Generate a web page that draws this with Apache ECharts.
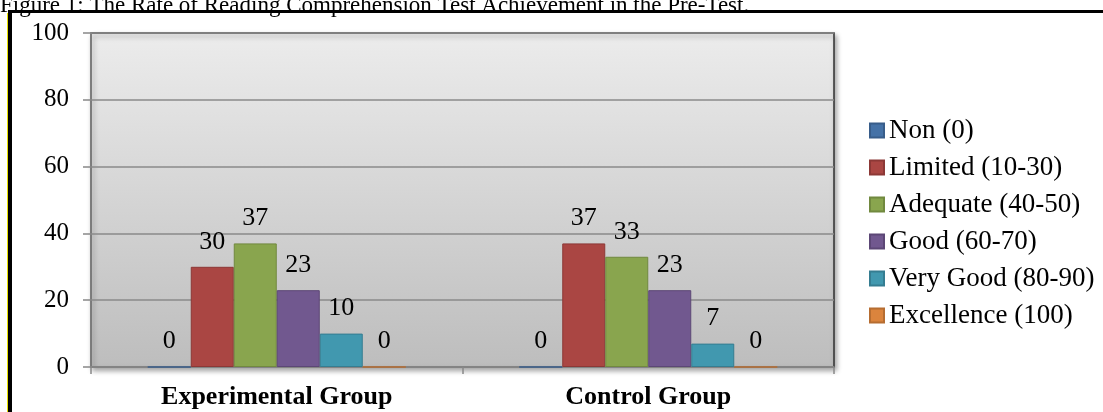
<!DOCTYPE html>
<html>
<head>
<meta charset="utf-8">
<script src="https://cdn.jsdelivr.net/npm/echarts@6/dist/echarts.min.js"></script>
<style>
  html, body { margin: 0; padding: 0; background: #ffffff; }
  #chart { width: 1103px; height: 412px; }
</style>
</head>
<body>
<div id="chart"></div>
<script>
// Groups on the x axis
const categories = ['Experimental Group', 'Control Group'];

// Achievement levels (one series each)
const levels = ['Non (0)', 'Limited (10-30)', 'Adequate (40-50)', 'Good (60-70)', 'Very Good (80-90)', 'Excellence (100)'];

// Percentage of students per level: [Experimental, Control]
const nonValues = [0, 0];
const limitedValues = [30, 37];
const adequateValues = [37, 33];
const goodValues = [23, 23];
const veryGoodValues = [10, 7];
const excellenceValues = [0, 0];

// Y axis range and step
const yMin = 0;
const yMax = 100;
const yStep = 20;

const figureTitle = 'Figure 1: The Rate of Reading Comprehension Test Achievement in the Pre-Test.';

const seriesValues = [nonValues, limitedValues, adequateValues, goodValues, veryGoodValues, excellenceValues];
const fills = ['#4572A7', '#AA4643', '#89A54E', '#71588F', '#4198AF', '#DB843D'];
const edges = ['#385D8A', '#8C3836', '#71893F', '#5C4776', '#357D91', '#B66D31'];

const serif = '"Liberation Serif", "Times New Roman", "DejaVu Serif", serif';

const chart = echarts.init(document.getElementById('chart'), null, { renderer: 'canvas' });

chart.setOption({
  animation: false,
  backgroundColor: '#ffffff',
  textStyle: { fontFamily: serif },
  graphic: [
    {
      type: 'text', left: 0, top: -6, z: 10,
      style: { text: figureTitle, font: '23px ' + serif, fill: '#000000' }
    },
    { type: 'rect', shape: { x: 8, y: 10, width: 1200, height: 3 }, style: { fill: '#000000' }, z: 10 },
    { type: 'rect', shape: { x: 8, y: 10, width: 4, height: 500 }, style: { fill: '#000000' }, z: 10 },
    { type: 'rect', shape: { x: 7, y: 13, width: 1, height: 500 }, style: { fill: '#E8E000' }, z: 10 }
  ],
  grid: {
    left: 91, right: 269, top: 33, bottom: 45,
    show: true,
    backgroundColor: new echarts.graphic.LinearGradient(0, 0, 0, 1, [
      { offset: 0, color: '#ececec' },
      { offset: 1, color: '#bdbdbd' }
    ]),
    borderColor: '#303030',
    borderWidth: 1.5,
    shadowColor: 'rgba(0,0,0,0.35)',
    shadowBlur: 5,
    shadowOffsetX: 2,
    shadowOffsetY: 3
  },
  legend: {
    orient: 'vertical',
    left: 869,
    top: 117,
    padding: 0,
    itemWidth: 14,
    itemHeight: 14,
    itemGap: 10,
    icon: 'rect',
    data: levels,
    textStyle: { fontFamily: serif, fontSize: 27, color: '#000000' }
  },
  xAxis: {
    type: 'category',
    data: categories,
    axisLine: { lineStyle: { color: '#888888', width: 1.5 } },
    axisTick: { show: true, length: 7, lineStyle: { color: '#888888', width: 1.5 } },
    axisLabel: { fontFamily: serif, fontSize: 26, fontWeight: 'bold', color: '#000000', margin: 17 },
    splitLine: { show: false }
  },
  yAxis: {
    type: 'value',
    min: yMin,
    max: yMax,
    interval: yStep,
    axisLine: { show: true, lineStyle: { color: '#888888', width: 1.5 } },
    axisTick: { show: true, length: 8, lineStyle: { color: '#888888', width: 1.5 } },
    axisLabel: { fontFamily: serif, fontSize: 25, color: '#000000', margin: 22 },
    splitLine: { show: true, lineStyle: { color: '#8a8a8a', width: 1.5 } }
  },
  series: levels.map((name, i) => ({
    name: name,
    type: 'bar',
    data: seriesValues[i],
    barWidth: 43,
    barGap: '0%',
    itemStyle: { color: fills[i], borderColor: edges[i], borderWidth: 1 },
    label: {
      show: true,
      position: 'top',
      distance: 12,
      fontFamily: serif,
      fontSize: 26,
      color: '#000000'
    }
  }))
});
</script>
</body>
</html>
